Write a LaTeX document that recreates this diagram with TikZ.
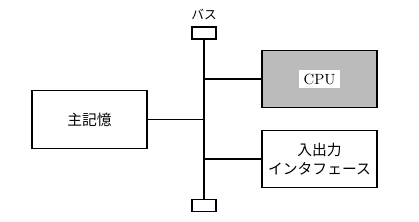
\documentclass[tikz,border=0pt]{standalone}
\usepackage{fontspec}
\newfontfamily\jpfont{Noto Sans CJK JP}
\usetikzlibrary{positioning}
\definecolor{CPUGray}{RGB}{187,187,187}

\begin{document}
\begin{tikzpicture}[x=0.025cm, y=-0.025cm,
            blk/.style={rectangle, draw, line width=0.8pt, minimum width=2.875cm,
                        minimum height=1.43cm, align=center, inner sep=0pt,
                        font=\jpfont\fontsize{10.5}{14}\selectfont},
            term/.style={rectangle, draw, line width=0.8pt, minimum width=0.6cm,
                         minimum height=0.3cm, inner sep=0pt},
            wire/.style={draw, line width=0.8pt}
          ]
          \useasboundingbox (0,0) rectangle (419,222);
          % bus
          \node[term] (bustop) at (204,33) {};
          \node[term] (busbot) at (204,205.5) {};
          \node[font=\jpfont\fontsize{9}{11}\selectfont] (buslbl) at (204,14) {バス};
          \draw[wire] (bustop.south) -- (busbot.north);

          % units
          \node[blk] (mem) at (89.5,119.5) {主記憶};
          \node[blk, fill=CPUGray] (cpu) at (319.5,79) {};
          \node[fill=white, inner xsep=3pt, inner ysep=2.5pt,
                font=\fontsize{10.5}{12}\selectfont] (cpulbl) at (cpu) {CPU};
          \node[blk] (io) at (319.5,159) {入出力\\インタフェース};

          % connections to the bus
          \draw[wire] (mem.east) -- (mem.east -| bustop);
          \draw[wire] (cpu.west) -- (cpu.west -| bustop);
          \draw[wire] (io.west) -- (io.west -| bustop);
        \end{tikzpicture}
\end{document}
